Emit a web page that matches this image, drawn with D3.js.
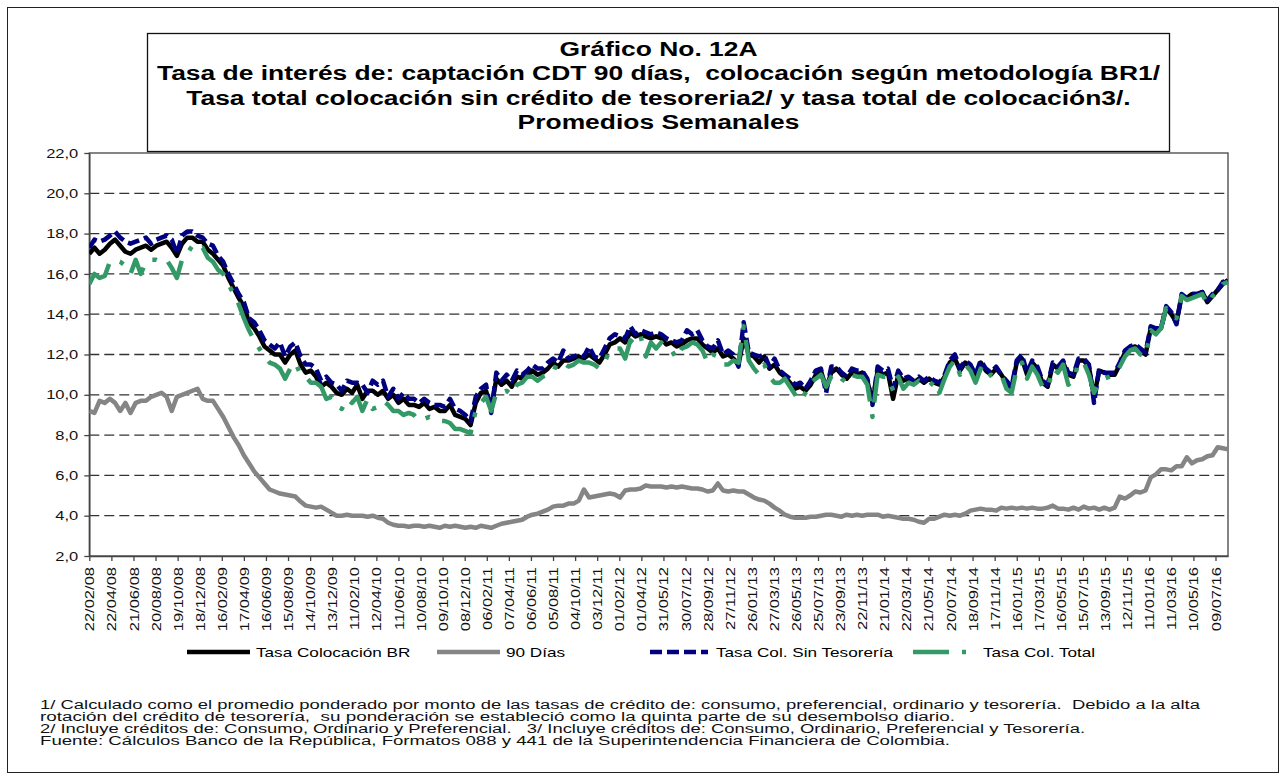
<!DOCTYPE html>
<html>
<head>
<meta charset="utf-8">
<script src="https://cdn.jsdelivr.net/npm/d3@7"></script>
<style>
  body { margin: 0; background: #fff; }
  svg { font-family: "Liberation Sans", Arial, sans-serif; }
</style>
</head>
<body>
<svg id="chart" width="1286" height="780"></svg>
<script>
// Weekly averages, read every second week starting 22/02/08
const startDate = '22/02/08';
const stepDays = 14;

const tasaColocacionBR = [
  17.0, 17.3, 17.0, 17.2, 17.5, 17.7, 17.4, 17.1, 17.0, 17.2,
  17.3, 17.4, 17.2, 17.4, 17.5, 17.6, 17.3, 16.9, 17.5, 17.8,
  17.8, 17.6, 17.6, 17.2, 17.0, 16.7, 16.4, 15.8, 15.3, 14.8,
  14.4, 13.6, 13.3, 12.9, 12.4, 12.2, 12.0, 12.0, 11.6, 12.0,
  12.2, 11.5, 11.1, 11.2, 10.9, 10.4, 10.6, 10.4, 10.1, 10.0,
  10.3, 10.1, 10.5, 9.8, 10.2, 10.2, 10.0, 10.2, 9.8, 10.0,
  9.6, 9.8, 9.5, 9.5, 9.4, 9.6, 9.3, 9.4, 9.2, 9.2,
  9.5, 9.0, 8.9, 8.8, 8.5, 9.6, 10.1, 10.2, 9.3, 10.8,
  10.5, 10.7, 10.4, 10.9, 10.8, 10.9, 11.2, 11.0, 11.1, 11.3,
  11.6, 11.4, 11.7, 11.7, 11.8, 11.9, 11.8, 12.0, 11.8, 11.6,
  12.0, 12.5, 12.6, 12.8, 12.6, 13.1, 12.9, 13.0, 12.9, 12.8,
  12.9, 12.8, 12.5, 12.6, 12.4, 12.5, 12.7, 12.8, 12.8, 12.5,
  12.3, 12.1, 12.3, 11.9, 12.0, 11.8, 11.5, 12.8, 12.0, 11.9,
  11.6, 11.9, 11.3, 11.5, 11.1, 10.9, 10.6, 10.3, 10.4, 10.2,
  10.5, 11.0, 11.2, 10.3, 11.1, 11.3, 11.0, 10.8, 11.1, 11.0,
  11.1, 10.7, 9.6, 11.2, 11.0, 11.1, 9.8, 11.0, 10.7, 10.8,
  10.6, 10.8, 10.6, 10.8, 10.6, 10.5, 10.9, 11.6, 11.8, 11.2,
  11.6, 11.4, 10.9, 11.6, 11.2, 11.0, 11.3, 11.0, 10.6, 10.3,
  11.6, 11.8, 11.0, 11.6, 11.3, 10.6, 10.4, 11.5, 11.3, 11.6,
  11.0, 10.9, 11.7, 11.7, 11.4, 9.9, 11.2, 11.1, 11.0, 11.0,
  11.5, 12.1, 12.3, 12.4, 12.2, 12.0, 13.3, 13.2, 13.3, 14.3,
  14.0, 13.6, 14.9, 14.8, 15.0, 15.0, 15.1, 14.6, 14.9, 15.2,
  15.5, 15.7
];

const noventaDias = [
  9.2, 9.1, 9.7, 9.6, 9.8, 9.6, 9.2, 9.6, 9.1, 9.6,
  9.7, 9.7, 9.9, 10.0, 10.1, 9.9, 9.2, 9.9, 10.0, 10.1,
  10.2, 10.3, 9.8, 9.7, 9.7, 9.3, 8.9, 8.4, 7.9, 7.5,
  7.0, 6.6, 6.2, 5.9, 5.6, 5.3, 5.2, 5.1, 5.05, 5.0,
  4.95, 4.7, 4.5, 4.45, 4.4, 4.45, 4.3, 4.15, 4.0, 4.0,
  4.05, 4.0, 4.0, 4.0, 3.95, 4.0, 3.9, 3.85, 3.65, 3.55,
  3.5, 3.5, 3.45, 3.5, 3.5, 3.45, 3.5, 3.45, 3.4, 3.5,
  3.45, 3.5, 3.45, 3.4, 3.45, 3.4, 3.5, 3.45, 3.4, 3.5,
  3.6, 3.65, 3.7, 3.75, 3.8, 3.95, 4.05, 4.1, 4.2, 4.3,
  4.45, 4.5, 4.5, 4.6, 4.6, 4.75, 5.3, 4.9, 4.95, 5.0,
  5.05, 5.1, 5.05, 4.9, 5.25, 5.3, 5.3, 5.35, 5.5, 5.45,
  5.45, 5.45, 5.4, 5.45, 5.4, 5.45, 5.4, 5.35, 5.35, 5.3,
  5.2, 5.25, 5.6, 5.25, 5.2, 5.25, 5.2, 5.2, 5.05, 4.9,
  4.8, 4.75, 4.6, 4.4, 4.25, 4.05, 3.95, 3.9, 3.9, 3.9,
  3.95, 3.95, 4.0, 4.05, 4.05, 4.0, 3.95, 4.05, 4.0, 4.05,
  4.0, 4.05, 4.05, 4.05, 3.95, 4.0, 3.95, 3.9, 3.85, 3.85,
  3.8, 3.7, 3.65, 3.85, 3.85, 3.95, 4.05, 4.0, 4.05, 4.0,
  4.1, 4.25, 4.3, 4.35, 4.3, 4.3, 4.25, 4.4, 4.35, 4.4,
  4.35, 4.4, 4.35, 4.4, 4.35, 4.35, 4.4, 4.5, 4.35, 4.35,
  4.3, 4.4, 4.3, 4.45, 4.35, 4.4, 4.3, 4.4, 4.3, 4.4,
  4.95, 4.85, 5.0, 5.2, 5.15, 5.25, 5.9, 6.05, 6.3, 6.3,
  6.25, 6.45, 6.45, 6.9, 6.6, 6.75, 6.8, 6.95, 7.0, 7.4,
  7.35, 7.3
];

const tasaColSinTesoreria = [
  17.3, 17.7, 17.6, 17.7, 17.9, 18.1, 17.8, 17.6, 17.5, 17.6,
  17.7, 17.8, 17.5, 17.7, 17.8, 17.9, 17.7, 17.0, 17.9, 18.1,
  18.1, 17.9, 17.8, 17.5, 17.4, 16.9, 16.6, 16.0, 15.5, 15.0,
  14.6, 13.8, 13.6, 13.2, 12.7, 12.5, 12.3, 12.6, 11.9, 12.4,
  12.6, 11.9, 11.5, 11.5, 11.3, 10.7, 10.9, 10.6, 10.5, 10.2,
  10.7, 10.6, 10.6, 10.5, 10.1, 10.7, 10.5, 10.7, 9.9, 10.3,
  9.8, 10.1, 9.8, 9.8, 9.6, 9.8, 9.6, 9.5, 9.5, 9.4,
  9.8, 9.3, 9.2, 9.0, 8.7, 9.9, 10.3, 10.5, 9.1, 11.1,
  10.7, 11.0, 10.7, 11.2, 11.0, 11.2, 11.5, 11.3, 11.3, 11.6,
  11.8, 11.6, 12.2, 11.8, 11.9, 12.0, 11.9, 12.4, 11.9, 11.8,
  12.3, 12.8, 13.0, 12.9, 12.8, 13.4, 13.0, 13.2, 13.1, 13.0,
  13.1, 13.0, 12.8, 12.7, 12.6, 12.7, 13.2, 13.0, 13.2, 12.7,
  12.4, 12.3, 12.7, 12.0, 12.2, 12.0, 11.4, 13.6, 12.1, 12.0,
  11.9, 12.0, 11.4, 11.8, 11.2, 11.0, 10.8, 10.5, 10.6, 10.3,
  10.7, 11.2, 11.3, 10.1, 11.4, 11.4, 11.1, 10.9, 11.3, 11.2,
  11.2, 10.8, 9.5, 11.4, 11.2, 11.3, 10.3, 11.2, 10.8, 10.9,
  10.7, 10.9, 10.7, 10.9, 10.7, 10.6, 11.0, 11.7, 12.0, 11.3,
  11.7, 11.5, 11.0, 11.7, 11.3, 11.1, 11.4, 11.0, 10.7, 10.4,
  11.7, 12.0, 11.1, 11.7, 11.4, 10.7, 10.5, 11.6, 11.4, 11.7,
  11.1, 11.0, 11.8, 11.8, 11.5, 9.6, 11.3, 11.1, 11.1, 11.1,
  11.6, 12.2, 12.4, 12.5, 12.3, 12.1, 13.4, 13.3, 13.3, 14.4,
  14.1, 13.5, 15.0, 14.8, 15.0, 15.0, 15.1, 14.7, 15.0, 15.2,
  15.6, 15.7
];

const tasaColTotal = [
  15.5, 16.0, 15.8, 15.9, 16.6, 16.7, 16.6, 16.4, 16.0, 16.7,
  16.0, 16.6, 16.7, 16.7, 16.6, 16.7, 16.3, 15.8, 16.7, 17.0,
  17.4, 17.2, 17.3, 16.8, 16.6, 16.2, 16.0, 15.5, 15.0, 14.5,
  13.8, 13.2, 12.7, 12.3, 11.9, 11.6, 11.5, 11.3, 10.8, 11.3,
  11.6, 11.0, 10.9, 10.6, 10.6, 10.4, 9.8, 9.9, 9.5, 9.3,
  9.8, 9.6, 9.9, 9.2, 9.8, 9.3, 9.4, 9.7, 9.5, 9.2,
  9.2, 9.0, 9.1, 9.0, 8.7, 8.8, 8.9, 8.8, 8.7, 8.7,
  8.6, 8.3, 8.3, 8.2, 8.1, 9.2, 9.6, 9.9, 9.2, 10.1,
  10.1, 10.2, 10.0, 10.5, 10.6, 10.9, 10.9, 10.7, 10.9, 11.0,
  11.4, 11.3, 11.6, 11.4, 11.5, 11.7, 11.6, 11.6, 11.5, 11.3,
  11.6, 12.2, 12.3, 12.3, 11.8, 12.7, 12.5, 12.9, 11.9, 12.6,
  12.3, 12.6, 12.3, 12.2, 11.8, 12.3, 12.4, 12.6, 12.5, 12.2,
  11.6, 12.0, 11.9, 11.5, 11.5, 11.7, 11.6, 13.4, 11.7, 11.3,
  11.0, 11.5, 10.9, 10.6, 10.6, 10.8, 10.4, 10.0, 9.7, 10.1,
  10.6, 10.8, 11.0, 10.4, 10.9, 11.1, 10.8, 10.6, 11.0, 10.9,
  10.9, 10.5, 8.9, 11.0, 10.9, 10.9, 10.2, 10.9, 10.3, 10.6,
  10.5, 10.7, 10.6, 10.4, 10.7, 10.1, 10.8, 11.4, 11.7, 11.0,
  11.5, 11.2, 10.6, 11.3, 10.8, 11.0, 10.9, 11.0, 10.3, 10.1,
  11.3, 11.6, 10.8, 11.4, 11.0, 10.4, 10.3, 11.3, 11.1, 11.5,
  10.5, 10.7, 11.6, 11.6, 11.0, 10.1, 10.6, 10.8, 10.9, 11.0,
  11.4, 11.9, 12.2, 12.3, 12.0, 11.9, 13.2, 13.0, 13.3, 14.3,
  13.9, 13.8, 14.9, 14.7, 14.8, 14.9, 15.0, 14.5, 14.9, 15.1,
  15.5, 15.6
];

const xTickLabels = [
  '22/02/08', '22/04/08', '21/06/08', '20/08/08', '19/10/08', '18/12/08',
  '16/02/09', '17/04/09', '16/06/09', '15/08/09', '14/10/09', '13/12/09',
  '11/02/10', '12/04/10', '11/06/10', '10/08/10', '09/10/10', '08/12/10',
  '06/02/11', '07/04/11', '06/06/11', '05/08/11', '04/10/11', '03/12/11',
  '01/02/12', '01/04/12', '31/05/12', '30/07/12', '28/09/12', '27/11/12',
  '26/01/13', '27/03/13', '26/05/13', '25/07/13', '23/09/13', '22/11/13',
  '21/01/14', '22/03/14', '21/05/14', '20/07/14', '18/09/14', '17/11/14',
  '16/01/15', '17/03/15', '16/05/15', '15/07/15', '13/09/15', '12/11/15',
  '11/01/16', '11/03/16', '10/05/16', '09/07/16'
];

const yTicks = [2, 4, 6, 8, 10, 12, 14, 16, 18, 20, 22];

const titleLines = [
  'Gráfico No. 12A',
  'Tasa de interés de: captación CDT 90 días,  colocación según metodología BR1/',
  'Tasa total colocación sin crédito de tesoreria2/ y tasa total de colocación3/.',
  'Promedios Semanales'
];

const notes = [
  '1/ Calculado como el promedio ponderado por monto de las tasas de crédito de: consumo, preferencial, ordinario y tesorería.  Debido a la alta',
  'rotación del crédito de tesorería,  su ponderación se estableció como la quinta parte de su desembolso diario.',
  '2/ Incluye créditos de: Consumo, Ordinario y Preferencial.   3/ Incluye créditos de: Consumo, Ordinario, Preferencial y Tesorería.',
  'Fuente: Cálculos Banco de la República, Formatos 088 y 441 de la Superintendencia Financiera de Colombia.'
];
// rendered width of each footnote line in the original, px
const noteWidths = [1160, 915, 1045, 910];

const series = [
  { name: 'Tasa Colocación BR', values: tasaColocacionBR, color: '#000000', dash: null },
  { name: '90 Días', values: noventaDias, color: '#858585', dash: null },
  { name: 'Tasa Col. Sin Tesorería', values: tasaColSinTesoreria, color: '#000080', dash: '12 5' },
  { name: 'Tasa Col. Total', values: tasaColTotal, color: '#339966', dash: '36 13 4.5 13' }
];

// legend layout: sample start/end and text start
const legendPos = [
  { x0: 187, x1: 250, tx: 256 },
  { x0: 437, x1: 500, tx: 506 },
  { x0: 650, x1: 708, tx: 716 },
  { x0: 913, x1: 966, tx: 983 }
];

const parseDate = d3.timeParse('%d/%m/%y');
const t0 = parseDate(startDate);
const dates = tasaColocacionBR.map((v, i) => d3.timeDay.offset(t0, i * stepDays));

const plot = { left: 89.3, right: 1228, top: 153, bottom: 556 };
const stretch = 1.27;

const svg = d3.select('#chart');

// Outer frame
svg.append('rect')
  .attr('x', 7.5).attr('y', 7.5)
  .attr('width', 1271).attr('height', 765)
  .attr('fill', 'none').attr('stroke', '#222').attr('stroke-width', 1);

// Scales
const xScale = d3.scaleTime()
  .domain([t0, dates[dates.length - 1]])
  .range([plot.left, plot.right]);
const yScale = d3.scaleLinear()
  .domain([2, 22])
  .range([plot.bottom, plot.top]);

// Gridlines
svg.append('g')
  .selectAll('line')
  .data(yTicks.filter(v => v > 2 && v < 22))
  .join('line')
  .attr('x1', plot.left).attr('x2', plot.right)
  .attr('y1', d => yScale(d)).attr('y2', d => yScale(d))
  .attr('stroke', '#333')
  .attr('stroke-width', 1.3)
  .attr('stroke-dasharray', '10 5');

// Plot area border
svg.append('rect')
  .attr('x', plot.left).attr('y', plot.top)
  .attr('width', plot.right - plot.left)
  .attr('height', plot.bottom - plot.top)
  .attr('fill', 'none').attr('stroke', '#444').attr('stroke-width', 1.3);

// Axes
const yAxis = d3.axisLeft(yScale)
  .tickValues(yTicks)
  .tickSize(5)
  .tickSizeOuter(0)
  .tickPadding(6)
  .tickFormat(d => d3.format('.1f')(d).replace('.', ','));

const xAxis = d3.axisBottom(xScale)
  .tickValues(xTickLabels.map(parseDate))
  .tickSize(5)
  .tickSizeOuter(0)
  .tickFormat(d3.timeFormat('%d/%m/%y'));

const gy = svg.append('g')
  .attr('transform', `translate(${plot.left},0)`)
  .call(yAxis);
gy.selectAll('text').attr('class', 'wide').attr('font-size', 13).attr('fill', '#111');

const gx = svg.append('g')
  .attr('transform', `translate(0,${plot.bottom})`)
  .call(xAxis);
gx.selectAll('text')
  .attr('class', 'wide')
  .attr('font-size', 13)
  .attr('fill', '#111')
  .attr('transform', 'rotate(-90)')
  .attr('x', -11)
  .attr('y', 0)
  .attr('dy', '0.35em')
  .style('text-anchor', 'end');

svg.selectAll('.domain').attr('stroke', '#444').attr('stroke-width', 1.5);
svg.selectAll('.tick line').attr('stroke', '#444').attr('stroke-width', 1.3);

// Lines
const line = d3.line()
  .x((d, i) => xScale(dates[i]))
  .y(d => yScale(d));

svg.append('defs').append('clipPath').attr('id', 'clip')
  .append('rect')
  .attr('x', plot.left).attr('y', plot.top - 3)
  .attr('width', plot.right - plot.left).attr('height', plot.bottom - plot.top + 3);

svg.append('g')
  .attr('clip-path', 'url(#clip)')
  .selectAll('path')
  .data(series)
  .join('path')
  .attr('d', d => line(d.values))
  .attr('fill', 'none')
  .attr('stroke', d => d.color)
  .attr('stroke-width', 4.5)
  .attr('stroke-linejoin', 'round')
  .attr('stroke-dasharray', d => d.dash);

// Title box
svg.append('rect')
  .attr('x', 147.5).attr('y', 33.5)
  .attr('width', 1022).attr('height', 118)
  .attr('fill', '#fff').attr('stroke', '#111').attr('stroke-width', 1.3);

const titles = svg.append('g')
  .selectAll('text')
  .data(titleLines)
  .join('text')
  .attr('x', 658.5)
  .attr('y', (d, i) => 55.5 + i * 24.5)
  .attr('text-anchor', 'middle')
  .attr('font-size', 20)
  .attr('font-weight', 'bold')
  .style('white-space', 'pre')
  .text(d => d);

// the second title line spans about 1003 px in the original
const titleStretch = 1003 / titles.nodes()[1].getComputedTextLength();
titles.each(function () {
  d3.select(this)
    .attr('textLength', this.getComputedTextLength() * titleStretch)
    .attr('lengthAdjust', 'spacingAndGlyphs');
});

// Legend
const legend = svg.append('g');
series.forEach((s, i) => {
  const p = legendPos[i];
  legend.append('line')
    .attr('x1', p.x0).attr('x2', p.x1)
    .attr('y1', 652).attr('y2', 652)
    .attr('stroke', s.color)
    .attr('stroke-width', 4.5)
    .attr('stroke-dasharray', s.dash);
  legend.append('text')
    .attr('class', 'wide')
    .attr('x', p.tx).attr('y', 657)
    .attr('font-size', 13.5)
    .text(s.name);
});

// Footnotes
svg.append('g')
  .selectAll('text')
  .data(notes)
  .join('text')
  .attr('x', 40)
  .attr('y', (d, i) => 709 + i * 11.9)
  .attr('font-size', 12.5)
  .attr('fill', '#111')
  .attr('textLength', (d, i) => noteWidths[i])
  .attr('lengthAdjust', 'spacingAndGlyphs')
  .style('white-space', 'pre')
  .text(d => d);

// Text in the original is drawn wider than normal Arial
svg.selectAll('text.wide').each(function () {
  const w = this.getComputedTextLength();
  d3.select(this)
    .attr('textLength', w * stretch)
    .attr('lengthAdjust', 'spacingAndGlyphs');
});
</script>
</body>
</html>
